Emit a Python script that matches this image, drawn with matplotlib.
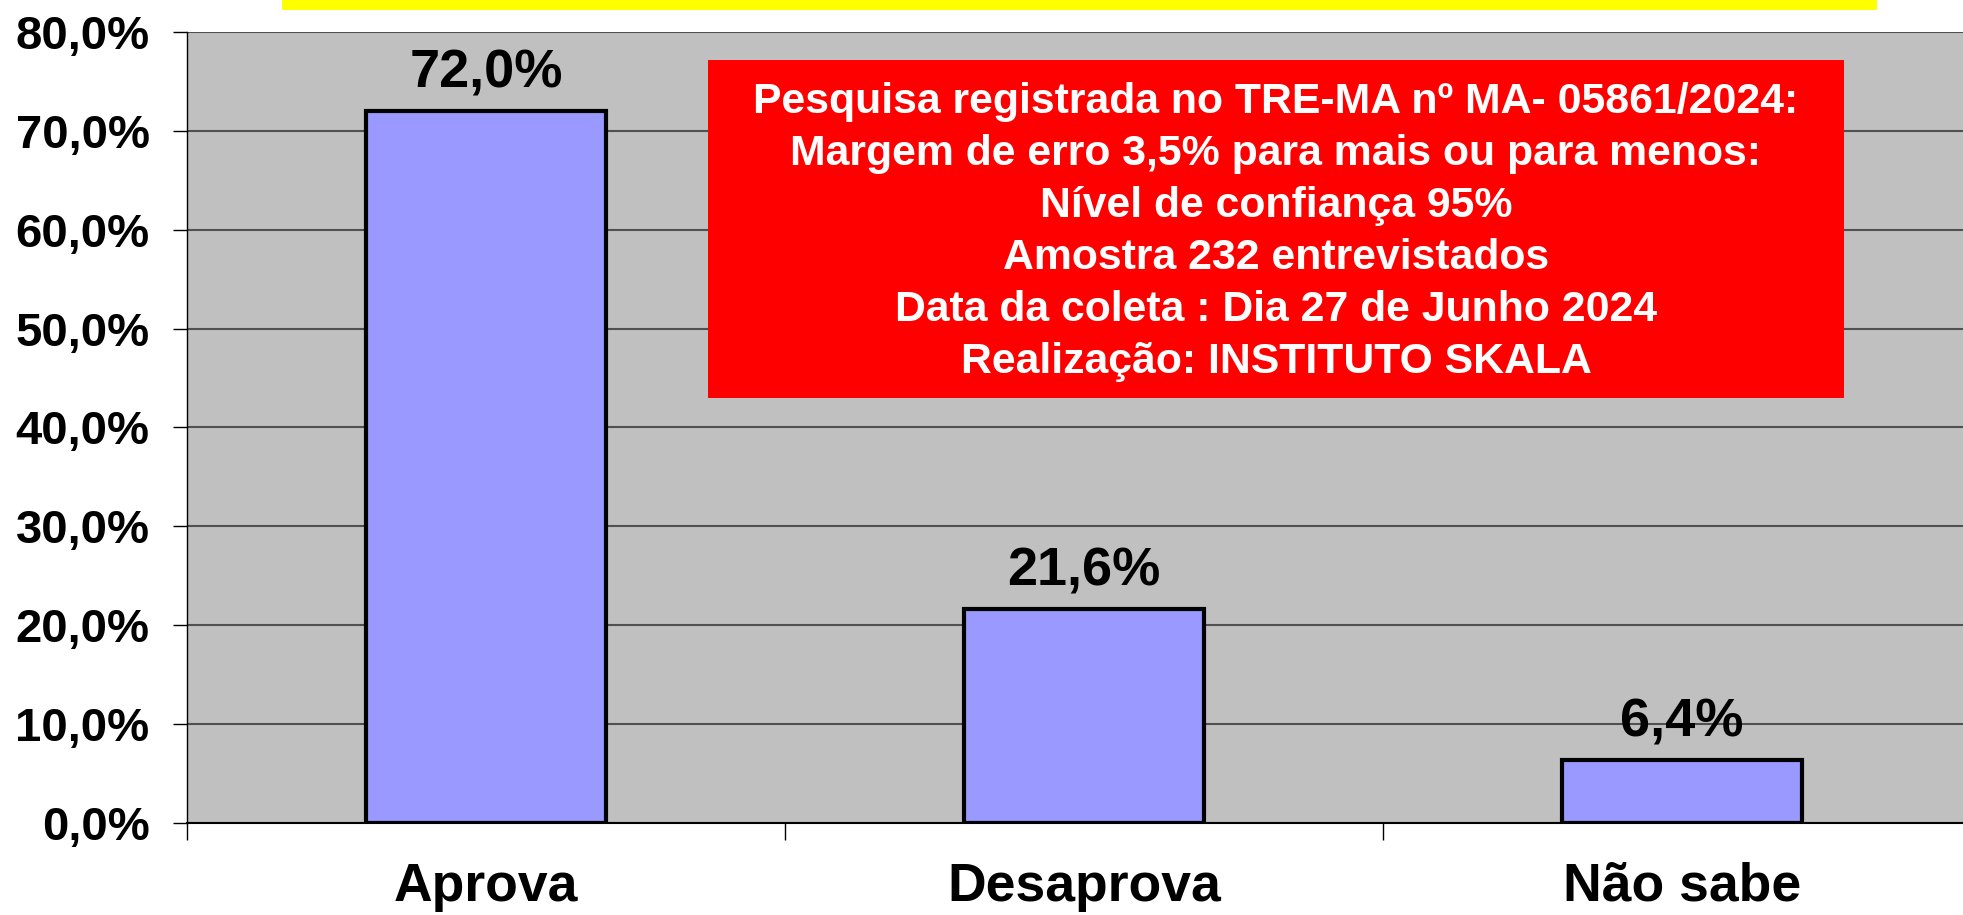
import matplotlib.pyplot as plt
from matplotlib.patches import Rectangle

# data
categorias = ['Aprova', 'Desaprova', 'Não sabe']
valores = [72.0, 21.6, 6.4]
yticks = [0, 10, 20, 30, 40, 50, 60, 70, 80]

info = ("Pesquisa registrada no TRE-MA nº MA- 05861/2024:\n"
        "Margem de erro 3,5% para mais ou para menos:\n"
        "Nível de confiança 95%\n"
        "Amostra 232 entrevistados\n"
        "Data da coleta : Dia 27 de Junho 2024\n"
        "Realização: INSTITUTO SKALA")

plt.rcParams['font.family'] = ['Liberation Sans', 'DejaVu Sans']
plt.rcParams['font.weight'] = 'bold'

W, H = 1963, 915
fig = plt.figure(figsize=(W / 100, H / 100), dpi=100)
ax = fig.add_axes([187 / W, (H - 823) / H, 1794 / W, (823 - 32) / H])
ax.set_facecolor('#C0C0C0')

x = list(range(len(categorias)))
ax.bar(x, valores, width=0.40, color='#9999FF', edgecolor='black', linewidth=3, zorder=3)

for xi, v in zip(x, valores):
    ax.annotate(f'{v:.1f}%'.replace('.', ','), (xi, v), xytext=(0, 9),
                textcoords='offset points', ha='center', va='bottom',
                fontsize=39, fontweight='bold')

ax.set_xlim(-0.5, 2.5)
ax.set_ylim(0, 80)
ax.set_yticks(yticks)
ax.set_yticklabels([f'{t:.1f}%'.replace('.', ',') for t in yticks])
ax.yaxis.grid(True, color='#505050', linewidth=1.5, zorder=0)
ax.set_axisbelow(True)

ax.set_xticks(x)
ax.set_xticklabels(categorias)
ax.set_xticks([-0.5, 0.5, 1.5, 2.5], minor=True)
ax.tick_params(axis='x', which='major', length=0, pad=28, labelsize=38.5)
ax.tick_params(axis='x', which='minor', length=12, width=1, direction='out')
ax.tick_params(axis='y', length=10, width=1, direction='out', pad=17, labelsize=34)

for s in ['top', 'right']:
    ax.spines[s].set_visible(False)
ax.spines['left'].set_linewidth(1)
ax.spines['bottom'].set_linewidth(1.5)

# yellow title strip at top (cut off)
fig.patches.append(Rectangle((282 / W, (H - 10) / H), (1877 - 282) / W, 10 / H,
                             transform=fig.transFigure, facecolor='#FFFF00',
                             edgecolor='none'))

# red info box
bx0, bx1, by0, by1 = 708, 1844, 60, 398
fig.patches.append(Rectangle((bx0 / W, (H - by1) / H), (bx1 - bx0) / W, (by1 - by0) / H,
                             transform=fig.transFigure, facecolor='#FF0000',
                             edgecolor='none', zorder=5))
fig.text((bx0 + bx1) / 2 / W, (H - (by0 + by1) / 2 - 3) / H, info, ha='center', va='center',
         color='white', fontsize=30.8, fontweight='bold', linespacing=1.39, zorder=6)

fig.savefig('out.png', dpi=100)
